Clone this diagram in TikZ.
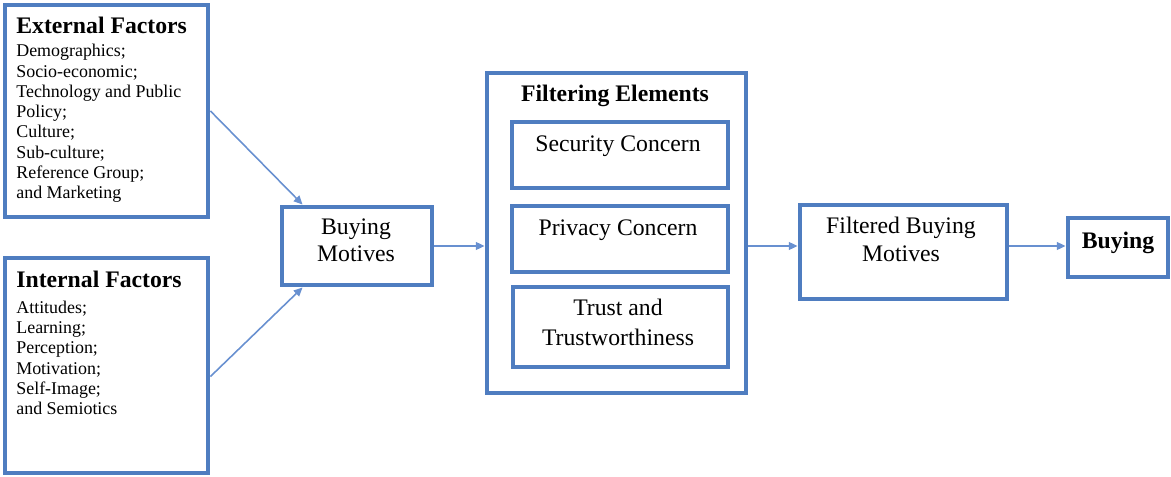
\documentclass[tikz,border=0pt]{standalone}
\usepackage{fontspec}
\setmainfont{Liberation Serif}
\usetikzlibrary{positioning,arrows.meta,calc}
\definecolor{boxblue}{RGB}{79,125,192}
\definecolor{arrowblue}{RGB}{104,144,208}
\tikzset{
  flowbox/.style={draw=boxblue, line width=2.8pt, inner sep=0pt},
  flowtext/.style={inner sep=0pt, align=center, font=\fontsize{13.5}{15.2}\selectfont},
  flowhead/.style={inner sep=0pt, font=\fontsize{13.5}{15.2}\selectfont\bfseries},
  flowlist/.style={inner sep=0pt, align=left, font=\fontsize{10.2}{11.55}\selectfont},
  flowarrow/.style={draw=arrowblue, line width=0.9pt, -{Triangle[length=5pt,width=4.5pt]}},
}

\begin{document}
\begin{tikzpicture}[x=0.02cm, y=-0.02cm]
  \useasboundingbox (0,0) rectangle (1171,477);
  % left column: the two groups of factors
  \node[flowbox, minimum width=4.06cm, minimum height=4.24cm] (ext) at (106.5,111) {};
  \node[flowbox, minimum width=4.06cm, minimum height=4.30cm] (int) at (106.5,365.5) {};
  \node[flowhead, anchor=west] (extT) at (16,25.5) {External Factors};
  \node[flowlist, anchor=west] (extL) at (16,123.5) {Demographics;\\Socio-economic;\\Technology and Public\\Policy;\\Culture;\\Sub-culture;\\Reference Group;\\and Marketing};
  \node[flowhead, anchor=west] (intT) at (16,279) {Internal Factors};
  \node[flowlist, anchor=west] (intL) at (16,358) {Attitudes;\\Learning;\\Perception;\\Motivation;\\Self-Image;\\and Semiotics};
  % motives
  \node[flowbox, minimum width=3.0cm, minimum height=1.56cm] (bm) at (357,246) {};
  \node[flowtext] (bmT) at (356,240.5) {Buying\\Motives};
  % filtering elements
  \node[flowbox, minimum width=5.18cm, minimum height=6.4cm] (fe) at (616.5,233) {};
  \node[flowhead] (feT) at (615,96) {Filtering Elements};
  \node[flowbox, minimum width=4.32cm, minimum height=1.32cm] (sec) at (620,155) {};
  \node[flowbox, minimum width=4.32cm, minimum height=1.32cm] (priv) at (620,239) {};
  \node[flowbox, minimum width=4.30cm, minimum height=1.6cm] (trust) at (620.5,327) {};
  \node[flowtext] (secT) at (618,146) {Security Concern};
  \node[flowtext] (privT) at (618,230) {Privacy Concern};
  \node[flowtext, font=\fontsize{13.5}{17}\selectfont] (trustT) at (618,322) {Trust and\\Trustworthiness};
  % result
  \node[flowbox, minimum width=4.14cm, minimum height=1.88cm] (fbm) at (903.5,252) {};
  \node[flowtext, font=\fontsize{13.5}{16}\selectfont] (fbmT) at (901,239) {Filtered Buying\\Motives};
  \node[flowbox, minimum width=2.0cm, minimum height=1.18cm] (buy) at (1118,247.5) {};
  \node[flowhead] (buyT) at (1118,243) {Buying};
  % connectors
  \draw[flowarrow] (ext.east) -- ($(bm.north west)+(23,0)$);
  \draw[flowarrow] ($(int.east)+(0,11)$) -- ($(bm.south west)+(23,0)$);
  \draw[flowarrow] (bm.east) -- (bm.east -| fe.west);
  \draw[flowarrow] (fe.east |- bm.east) -- (fbm.west |- bm.east);
  \draw[flowarrow] (fbm.east |- bm.east) -- (buy.west |- bm.east);
\end{tikzpicture}
\end{document}
